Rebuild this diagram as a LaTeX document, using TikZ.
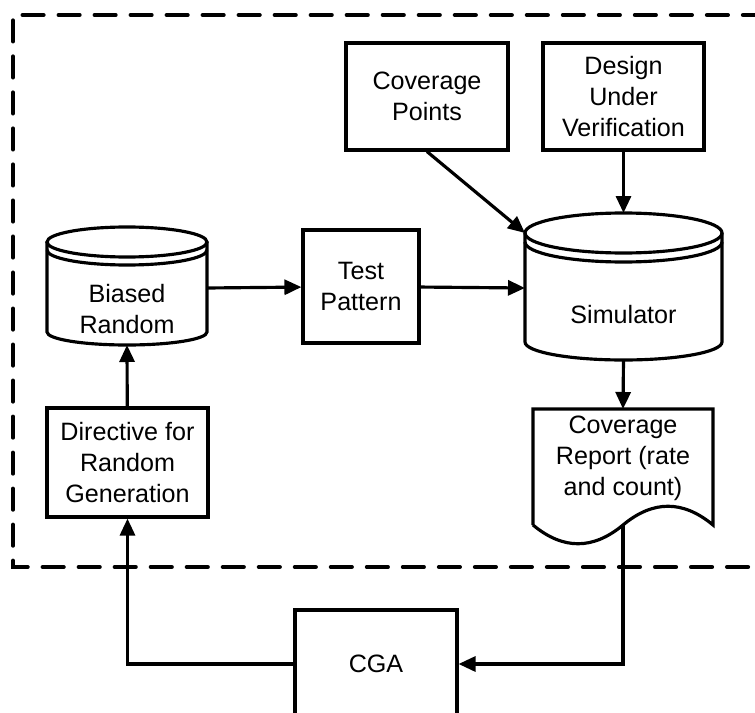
\documentclass[tikz,border=0pt]{standalone}
\usepackage{fontspec}
\setmainfont{Liberation Sans}
\usetikzlibrary{arrows.meta}

\tikzset{
  blk/.style={draw, line width=1.8pt, align=center, inner sep=0pt},
  txt/.style={align=center, inner sep=0pt},
  arr/.style={line width=1.8pt, -{Triangle[length=0.34cm, width=0.3cm]}},
  wire/.style={line width=1.8pt},
  bound/.style={line width=2.3pt, line cap=round, dash pattern=on 12pt off 8.5pt}
}

\begin{document}
\begin{tikzpicture}[x=0.02cm, y=0.02cm, font=\fontsize{14.3}{17.6}\selectfont]
\useasboundingbox (0,0) rectangle (755,-713);
\clip (0,0) rectangle (755,-713);
%% verification environment (dashed frame, open to the right)
\draw[bound] (800,-15) -- (13,-15) -- (13,-567) -- (800,-567);
%
%% inputs of the simulator
\node[blk, minimum width=3.24cm, minimum height=2.14cm] (cov) at (427,-96.5) {Coverage\\Points};
\node[blk, minimum width=3.22cm, minimum height=2.14cm] (duv) at (623.5,-96.5) {Design\\Under\\Verification};
\node[blk, minimum width=2.32cm, minimum height=2.26cm] (test) at (361,-286.5) {Test\\Pattern};
\node[blk, minimum width=3.22cm, minimum height=2.18cm] (dir) at (127.5,-462.5) {Directive for\\Random\\Generation};
\node[blk, minimum width=3.24cm, minimum height=2.16cm] (cga) at (376,-664) {CGA};
%
% biased random (drum)
\draw[wire, fill=white] (47,-242) -- (47,-332) arc[start angle=180, end angle=360, x radius=80, y radius=13] -- (207,-242);
\draw[wire] (127,-242) ellipse[x radius=80, y radius=15];
\draw[wire] (47,-250) arc[start angle=180, end angle=360, x radius=80, y radius=15];
\node[txt] (rnd) at (127,-309) {Biased\\Random};
\coordinate (rndbot) at (127,-345);
\coordinate (rndout) at (207,-288);
%
% simulator (drum)
\draw[wire] (525,-233) -- (525,-342) arc[start angle=180, end angle=360, x radius=98.5, y radius=18] -- (722,-233);
\draw[wire] (623.5,-233) ellipse[x radius=98.5, y radius=20];
\draw[wire] (525,-242) arc[start angle=180, end angle=360, x radius=98.5, y radius=20];
\node[txt] (sim) at (623.5,-315) {Simulator};
\coordinate (simtop) at (623.5,-213);
\coordinate (simcorner) at (525,-233);
\coordinate (simin) at (525,-288);
\coordinate (simbot) at (623.5,-360);
%
% coverage report (document)
\draw[wire] (533,-525) -- (533,-409) -- (713,-409) -- (713,-525)
  .. controls (683,-500) and (653,-500) .. (623,-525)
  .. controls (593,-550) and (563,-550) .. (533,-525);
\node[txt] (rep) at (623,-458) {Coverage\\Report (rate\\and count)};
\coordinate (reptop) at (623,-409);
\coordinate (repbot) at (623,-525);
%
%% connectors
\draw[arr] (duv) -- (simtop);
\draw[arr] (cov.south) -- (simcorner);
\draw[arr] (rndout) -- (test);
\draw[arr] (test) -- (simin);
\draw[arr] (simbot) -- (reptop);
\draw[arr] (dir) -- (rndbot);
% loop back through the CGA
\draw[arr] (repbot) |- (cga);
\draw[arr] (cga) -| (dir);
%
\end{tikzpicture}
\end{document}
